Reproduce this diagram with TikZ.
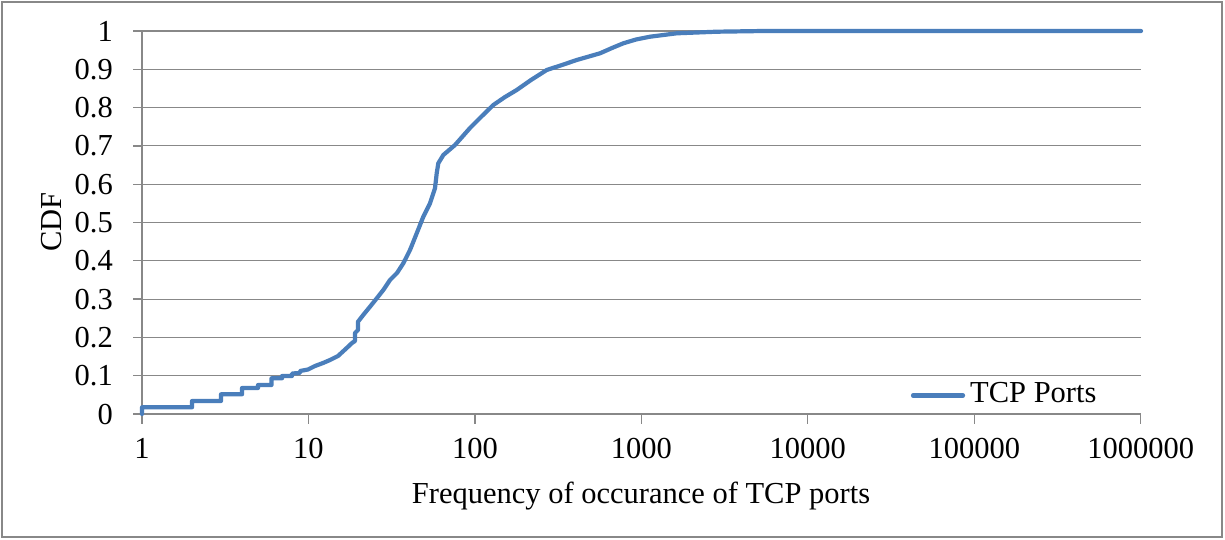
\documentclass[tikz,border=0pt]{standalone}
\usepackage{fontspec}
\setmainfont{Liberation Serif}
\begin{document}
\begin{tikzpicture}[x=1pt,y=-1pt,
  axisline/.style={draw=axisgray,line width=1.3pt},
  gridline/.style={draw=axisgray,line width=1.1pt},
  series/.style={draw=seriesblue,line width=4.2pt,line join=round,line cap=round},
  lbl/.style={inner sep=0pt,font=\fontsize{30.5}{36}\selectfont}]
\definecolor{axisgray}{HTML}{888888}
\definecolor{seriesblue}{HTML}{4A7EBB}
\useasboundingbox (0,0) rectangle (1225,539);
\fill[white] (0,0) rectangle (1225,539);
% outer chart frame
\draw[draw=axisgray,line width=2.2pt] (2,2) rectangle (1222,537);
% horizontal grid lines and y ticks
\foreach \i in {0,...,10}{
  \pgfmathsetmacro{\yy}{414-38.3*\i}
  \ifnum\i>0 \draw[gridline] (142,\yy) -- (1141,\yy);\fi
  \draw[axisline] (133,\yy) -- (142,\yy);
}
\node[lbl,anchor=east] (yl0) at (113,414) {0};
\node[lbl,anchor=east] (yl1) at (113,375.7) {0.1};
\node[lbl,anchor=east] (yl2) at (113,337.4) {0.2};
\node[lbl,anchor=east] (yl3) at (113,299.1) {0.3};
\node[lbl,anchor=east] (yl4) at (113,260.8) {0.4};
\node[lbl,anchor=east] (yl5) at (113,222.5) {0.5};
\node[lbl,anchor=east] (yl6) at (113,184.2) {0.6};
\node[lbl,anchor=east] (yl7) at (113,145.9) {0.7};
\node[lbl,anchor=east] (yl8) at (113,107.6) {0.8};
\node[lbl,anchor=east] (yl9) at (113,69.3) {0.9};
\node[lbl,anchor=east] (yl10) at (113,31) {1};
% axes
\draw[axisline] (142,31) -- (142,414) -- (1141,414);
% x ticks (one per decade)
\foreach \k in {0,...,6}{
  \draw[axisline] (142+166.45*\k,414) -- (142+166.45*\k,424);
}
\node[lbl,anchor=base] (xl0) at (142,458) {1};
\node[lbl,anchor=base] (xl1) at (308.45,458) {10};
\node[lbl,anchor=base] (xl2) at (474.9,458) {100};
\node[lbl,anchor=base] (xl3) at (641.35,458) {1000};
\node[lbl,anchor=base] (xl4) at (807.8,458) {10000};
\node[lbl,anchor=base] (xl5) at (974.25,458) {100000};
\node[lbl,anchor=base] (xl6) at (1140.7,458) {1000000};
% axis titles
\node[lbl,anchor=base] (xtitle) at (641,503) {Frequency of occurance of TCP ports};
\node[lbl,anchor=base,rotate=90] (ytitle) at (61.5,222) {CDF};
% CDF curve
\draw[series] (142,414) -- (142,407.3) -- (192,407.3) -- (192,401) -- (221,401) -- (221,394.3)
  -- (242,394.3) -- (242,388) -- (258,388) -- (258,385) -- (271.5,385) -- (271.5,378.3)
  -- (282,378.3) -- (282,376) -- (292,376) -- (292,373.5) -- (300,373) -- (300,371)
  -- (308,369.5) -- (315,366) -- (323,363) -- (330,360) -- (338,356) -- (346.7,348)
  -- (352,343) -- (355,341) -- (355,333) -- (358,330) -- (358,321.7) -- (364,314)
  -- (370,306.7) -- (377,298) -- (383.3,290) -- (390,280) -- (397,273) -- (403.3,263.3)
  -- (410,250) -- (416.7,233.3) -- (423.3,216.7) -- (430,203.3) -- (435,188.3)
  -- (436.7,173.3) -- (438.3,163.3) -- (443.3,155) -- (455,145) -- (470,128)
  -- (482,116) -- (493.3,105) -- (505,97) -- (516.7,90) -- (531,80) -- (546.7,70)
  -- (562,65) -- (576.7,60) -- (600,53.3) -- (612,48) -- (623.3,43.3) -- (636,39.5)
  -- (650,36.7) -- (676.7,33.3) -- (716.7,31.7) -- (763.3,31) -- (1141,31);
% legend
\node[lbl,anchor=base west] (legtext) at (970,402.3) {TCP Ports};
\coordinate (legstart) at (913,395.5);
\coordinate (legend) at (963,395.5);
\draw[series] (legstart) -- (legend);
\end{tikzpicture}
\end{document}
